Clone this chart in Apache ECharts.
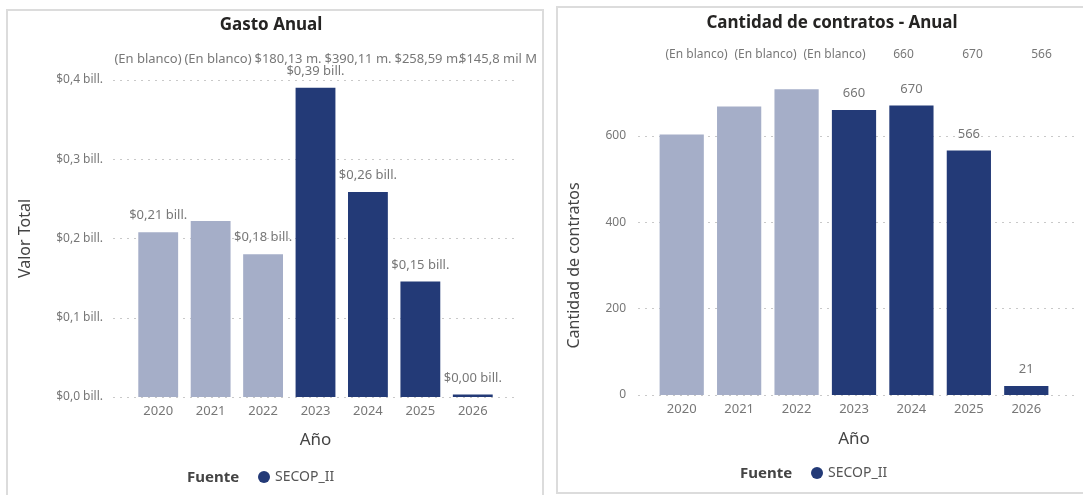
<!DOCTYPE html>
<html>
<head>
<meta charset="utf-8">
<script src="https://cdn.jsdelivr.net/npm/echarts@6/dist/echarts.min.js"></script>
<style>
  html, body { margin: 0; padding: 0; background: #fff; }
  #main { width: 1083px; height: 495px; }
</style>
</head>
<body>
<div id="main"></div>
<script>
var years = ['2020', '2021', '2022', '2023', '2024', '2025', '2026'];
var fuente = ['(En blanco)', '(En blanco)', '(En blanco)', 'SECOP_II', 'SECOP_II', 'SECOP_II', 'SECOP_II'];

// valor total en billones
var gasto = [0.208, 0.222, 0.18013, 0.39011, 0.25859, 0.1458, 0.003];
var gastoTicks = [0, 0.1, 0.2, 0.3, 0.4];
var gastoHiddenLabel = ['2021'];
var gastoTopRow = ['(En blanco)', '(En blanco)', '$180,13 m.', '$390,11 m.', '$258,59 m.', '$145,8 mil M'];

// cantidad de contratos
var contratos = [603, 668, 708, 660, 670, 566, 21];
var contratosTicks = [0, 200, 400, 600];
var contratosHiddenLabel = ['2020', '2021', '2022'];
var contratosTopRow = ['(En blanco)', '(En blanco)', '(En blanco)', '660', '670', '566'];

var DARK = '#233a77';
var LIGHT = '#a5aec8';
var FONT = 'Noto Sans';

function colorOf(i) { return fuente[i] === 'SECOP_II' ? DARK : LIGHT; }
function money(v, d) { return '$' + v.toFixed(d).replace('.', ',') + ' bill.'; }

var dom = document.getElementById('main');
var myChart = echarts.init(dom);

var gridLine = { show: true, lineStyle: { color: '#c9c9c9', type: [2, 5], width: 1 } };
var hiddenAxis = { show: false };

function barData(vals, hidden, fmt) {
  return vals.map(function (v, i) {
    return {
      value: v,
      itemStyle: { color: colorOf(i) },
      label: { show: hidden.indexOf(years[i]) < 0, formatter: fmt(v) }
    };
  });
}

var option = {
  animation: false,
  textStyle: { fontFamily: FONT },
  graphic: [
    { type: 'rect', shape: { x: 7, y: 10, width: 536, height: 500 }, style: { fill: 'none', stroke: '#dcdcdc', lineWidth: 2 } },
    { type: 'rect', shape: { x: 557, y: 7, width: 540, height: 486 }, style: { fill: 'none', stroke: '#dcdcdc', lineWidth: 2 } },
    { type: 'text', left: 187, top: 470, style: { text: 'Fuente', font: 'bold 15px "Noto Sans"', fill: '#444' } },
    { type: 'text', left: 740, top: 466, style: { text: 'Fuente', font: 'bold 15px "Noto Sans"', fill: '#444' } }
  ],
  title: [
    { text: 'Gasto Anual', left: 266, top: 12, textAlign: 'center',
      textStyle: { fontSize: 17, fontWeight: 'bold', color: '#252423', fontFamily: FONT } },
    { text: 'Cantidad de contratos - Anual', left: 827, top: 10, textAlign: 'center',
      textStyle: { fontSize: 17, fontWeight: 'bold', color: '#252423', fontFamily: FONT } }
  ],
  legend: [
    { data: ['SECOP_II'], left: 253, top: 465, icon: 'circle', itemWidth: 12, itemHeight: 12, itemGap: 4,
      textStyle: { color: '#555', fontSize: 14, fontFamily: FONT }, selectedMode: false },
    { data: ['SECOP_II'], left: 806, top: 461, icon: 'circle', itemWidth: 12, itemHeight: 12, itemGap: 4,
      textStyle: { color: '#555', fontSize: 14, fontFamily: FONT }, selectedMode: false }
  ],
  grid: [
    { left: 113, right: 568, top: 80, bottom: 98 },   // 0 gasto ejes
    { left: 132, right: 584, top: 80, bottom: 98 },   // 1 gasto barras
    { left: 113, width: 420, top: 51, height: 16 },   // 2 gasto fila superior
    { left: 638, right: 8, top: 136, bottom: 100 },   // 3 contratos ejes
    { left: 653, right: 28, top: 84, bottom: 100 },   // 4 contratos barras
    { left: 662, width: 414, top: 47, height: 16 }    // 5 contratos fila superior
  ],
  xAxis: [
    { gridIndex: 0, type: 'value', show: false },
    { gridIndex: 1, type: 'category', data: years,
      axisLine: hiddenAxis, axisTick: hiddenAxis,
      axisLabel: { color: '#777', fontSize: 13, margin: 8 },
      name: 'Año', nameLocation: 'middle', nameGap: 35,
      nameTextStyle: { color: '#444', fontSize: 17 } },
    { gridIndex: 2, type: 'category', data: gastoTopRow, show: false },
    { gridIndex: 3, type: 'value', show: false },
    { gridIndex: 4, type: 'category', data: years,
      axisLine: hiddenAxis, axisTick: hiddenAxis,
      axisLabel: { color: '#777', fontSize: 13, margin: 8 },
      name: 'Año', nameLocation: 'middle', nameGap: 36,
      nameTextStyle: { color: '#444', fontSize: 17 } },
    { gridIndex: 5, type: 'category', data: contratosTopRow, show: false }
  ],
  yAxis: [
    { gridIndex: 0, type: 'value', min: gastoTicks[0], max: gastoTicks[gastoTicks.length - 1], interval: 0.1,
      axisLine: hiddenAxis, axisTick: hiddenAxis, splitLine: gridLine,
      axisLabel: { color: '#777', fontSize: 12, margin: 10, formatter: function (v) { return money(v, 1); } },
      name: 'Valor Total', nameLocation: 'middle', nameGap: 80, nameRotate: 90,
      nameTextStyle: { color: '#444', fontSize: 16 } },
    { gridIndex: 1, type: 'value', min: 0, max: 0.4, show: false },
    { gridIndex: 2, type: 'value', min: -1, max: 1, show: false },
    { gridIndex: 3, type: 'value', min: contratosTicks[0], max: contratosTicks[contratosTicks.length - 1], interval: 200,
      axisLine: hiddenAxis, axisTick: hiddenAxis, splitLine: gridLine,
      axisLabel: { color: '#777', fontSize: 12, margin: 12 },
      name: 'Cantidad de contratos', nameLocation: 'middle', nameGap: 56, nameRotate: 90,
      nameTextStyle: { color: '#444', fontSize: 16 } },
    { gridIndex: 4, type: 'value', min: 0, max: 720, show: false },
    { gridIndex: 5, type: 'value', min: -1, max: 1, show: false }
  ],
  series: [
    { name: 'SECOP_II', type: 'bar', xAxisIndex: 1, yAxisIndex: 1, barWidth: '76%',
      itemStyle: { color: DARK },
      label: { position: 'top', distance: 10, color: '#777', fontSize: 13 },
      data: barData(gasto, gastoHiddenLabel, function (v) { return money(v, 2); }) },
    { name: 'top1', type: 'scatter', xAxisIndex: 2, yAxisIndex: 2, symbolSize: 0, silent: true,
      label: { show: true, position: 'inside', color: '#555', fontSize: 13,
        formatter: function (p) { return gastoTopRow[p.dataIndex]; } },
      data: gastoTopRow.map(function (t, i) { return [i, 0]; }) },
    { name: 'SECOP_II', type: 'bar', xAxisIndex: 4, yAxisIndex: 4, barWidth: '77%',
      itemStyle: { color: DARK },
      label: { position: 'top', distance: 10, color: '#777', fontSize: 13 },
      data: barData(contratos, contratosHiddenLabel, function (v) { return String(v); }) },
    { name: 'top2', type: 'scatter', xAxisIndex: 5, yAxisIndex: 5, symbolSize: 0, silent: true,
      label: { show: true, position: 'inside', color: '#555', fontSize: 12,
        formatter: function (p) { return contratosTopRow[p.dataIndex]; } },
      data: contratosTopRow.map(function (t, i) { return [i, 0]; }) }
  ]
};

if (option && typeof option === 'object') {
  myChart.setOption(option);
}
</script>
</body>
</html>
